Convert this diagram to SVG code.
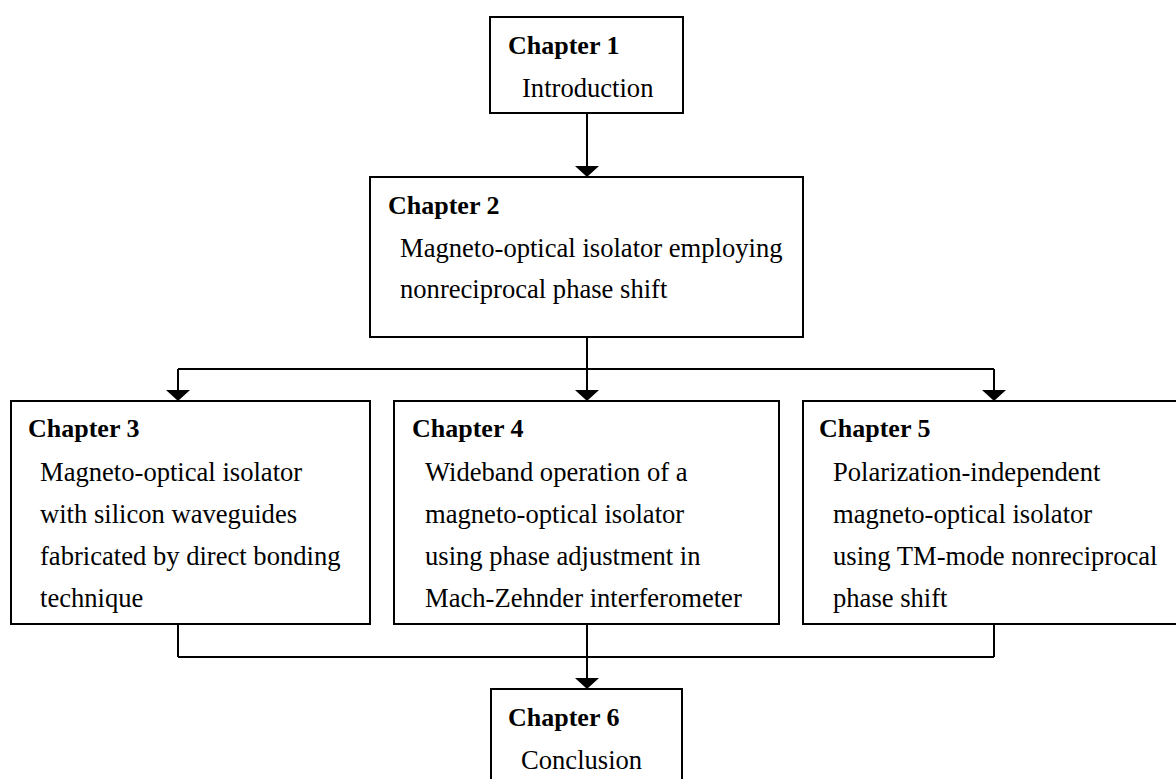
<svg xmlns="http://www.w3.org/2000/svg" width="1176" height="779" viewBox="0 0 1176 779">
  <style>
    .box { fill: #ffffff; stroke: #000000; stroke-width: 2; }
    .t { font-family: "Liberation Serif", "Times New Roman", serif; font-size: 26.6px; fill: #000000; }
    .h { font-weight: bold; font-size: 26px; }
    .ln { fill: none; stroke: #000000; stroke-width: 2; }
    .ah { fill: #000000; stroke: none; }
  </style>
  <rect width="1176" height="779" fill="#ffffff"/>
  <g id="connectors">
    <path class="ln" d="M587,113 V168"/>
    <polygon class="ah" points="575,166 599,166 587,177"/>
    <path class="ln" d="M587,337 V369 M178,369 H994 M178,369 V392 M587,369 V392 M994,369 V392"/>
    <polygon class="ah" points="166,390 190,390 178,401"/>
    <polygon class="ah" points="575,390 599,390 587,401"/>
    <polygon class="ah" points="982,390 1006,390 994,401"/>
    <path class="ln" d="M178,624 V657 M587,624 V680 M994,624 V657 M178,657 H994"/>
    <polygon class="ah" points="575,678 599,678 587,689"/>
  </g>
  <g id="chapter1">
    <rect class="box" x="490" y="17" width="193" height="96"/>
    <text class="t h" x="508" y="54">Chapter 1</text>
    <text class="t" x="522" y="97">Introduction</text>
  </g>
  <g id="chapter2">
    <rect class="box" x="370" y="177" width="433" height="160"/>
    <text class="t h" x="388" y="214">Chapter 2</text>
    <text class="t" x="400" y="257">Magneto-optical isolator employing</text>
    <text class="t" x="400" y="298">nonreciprocal phase shift</text>
  </g>
  <g id="chapter3">
    <rect class="box" x="11" y="401" width="359" height="223"/>
    <text class="t h" x="28" y="437">Chapter 3</text>
    <text class="t" x="40" y="481">Magneto-optical isolator</text>
    <text class="t" x="40" y="523">with silicon waveguides</text>
    <text class="t" x="40" y="565">fabricated by direct bonding</text>
    <text class="t" x="40" y="607">technique</text>
  </g>
  <g id="chapter4">
    <rect class="box" x="394" y="401" width="385" height="223"/>
    <text class="t h" x="412" y="437">Chapter 4</text>
    <text class="t" x="425" y="481">Wideband operation of a</text>
    <text class="t" x="425" y="523">magneto-optical isolator</text>
    <text class="t" x="425" y="565">using phase adjustment in</text>
    <text class="t" x="425" y="607">Mach-Zehnder interferometer</text>
  </g>
  <g id="chapter5">
    <rect class="box" x="803" y="401" width="380" height="223"/>
    <text class="t h" x="819" y="437">Chapter 5</text>
    <text class="t" x="833" y="481">Polarization-independent</text>
    <text class="t" x="833" y="523">magneto-optical isolator</text>
    <text class="t" x="833" y="565">using TM-mode nonreciprocal</text>
    <text class="t" x="833" y="607">phase shift</text>
  </g>
  <g id="chapter6">
    <rect class="box" x="491" y="689" width="191" height="100"/>
    <text class="t h" x="508" y="726">Chapter 6</text>
    <text class="t" x="521" y="769">Conclusion</text>
  </g>
</svg>
